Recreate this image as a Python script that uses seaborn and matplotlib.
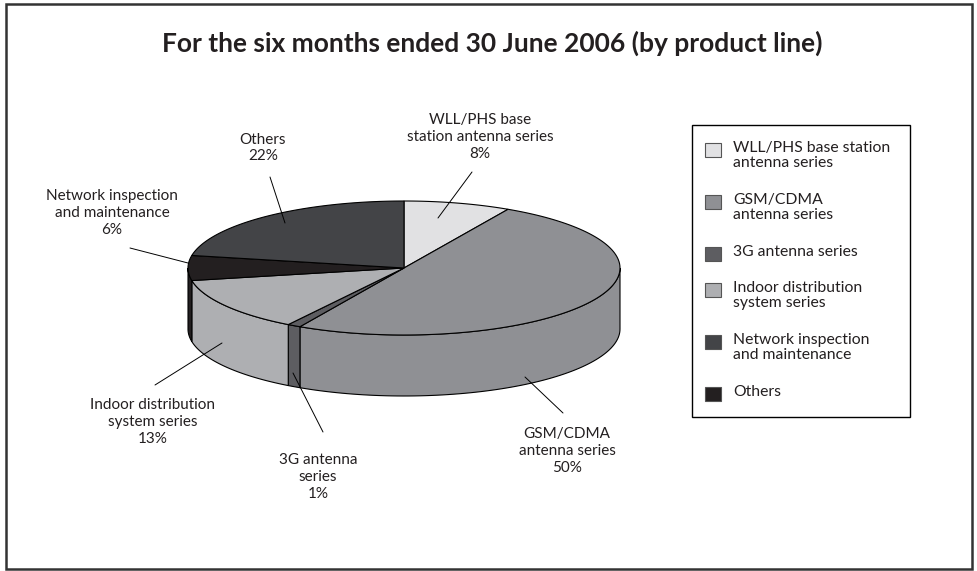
import numpy as np
import matplotlib.pyplot as plt
from matplotlib.patches import Rectangle
import seaborn as sns

# Data
categories = ['WLL/PHS base station antenna series', 'GSM/CDMA antenna series',
              '3G antenna series', 'Indoor distribution system series',
              'Network inspection and maintenance', 'Others']
shares = [8, 50, 1, 13, 6, 22]
pie_labels = ['WLL/PHS base\nstation antenna series\n8%',
              'GSM/CDMA\nantenna series\n50%',
              '3G antenna\nseries\n1%',
              'Indoor distribution\nsystem series\n13%',
              'Network inspection\nand maintenance\n6%',
              'Others\n22%']
legend_labels = ['WLL/PHS base station\nantenna series', 'GSM/CDMA\nantenna series',
                 '3G antenna series', 'Indoor distribution\nsystem series',
                 'Network inspection\nand maintenance', 'Others']
legend_colors = ['#e1e1e3', '#8f9094', '#5d5d61', '#aeafb2', '#434447', '#231f20']
# the pie itself draws the last two shades the other way round
slice_colors = ['#e1e1e3', '#8f9094', '#5d5d61', '#aeafb2', '#231f20', '#434447']
title = 'For the six months ended 30 June 2006 (by product line)'

# Layout (pixels)
cx, cy = 404, 268
rx, ry = 216, 67
depth = 61
label_pos = [(480, 137), (567, 451), (318, 477), (153, 422), (112, 213), (263, 148)]
leaders = [((472, 172), (438, 218)), ((563, 413), (525, 377)),
           ((323, 432), (293, 373)), ((155, 385), (222, 343)),
           ((130, 248), (188, 263)), ((270, 177), (285, 223))]

sns.set_style('white')
plt.rcParams['font.family'] = ['Lato', 'DejaVu Sans']
text_color = '#231f20'

fig = plt.figure(figsize=(9.77, 5.71), dpi=100)
ax = fig.add_axes([0, 0, 1, 1])
ax.set_xlim(0, 977)
ax.set_ylim(571, 0)
ax.axis('off')

frac = np.array(shares) / sum(shares)
bounds = np.concatenate([[0], np.cumsum(frac)])

# side walls (front half only)
for i, col in enumerate(slice_colors):
    a0 = 90 - 360 * bounds[i]
    a1 = 90 - 360 * bounds[i + 1]
    hi, lo = min(a0, 0), max(a1, -180)
    if lo < hi:
        th = np.radians(np.linspace(hi, lo, 80))
        xs = cx + rx * np.cos(th)
        ys = cy - ry * np.sin(th)
        ax.fill(np.concatenate([xs, xs[::-1]]),
                np.concatenate([ys, ys[::-1] + depth]),
                facecolor=col, edgecolor='black', lw=0.8)

# top faces
for i, col in enumerate(slice_colors):
    a0 = 90 - 360 * bounds[i]
    a1 = 90 - 360 * bounds[i + 1]
    th = np.radians(np.linspace(a0, a1, 120))
    xs = np.concatenate([[cx], cx + rx * np.cos(th)])
    ys = np.concatenate([[cy], cy - ry * np.sin(th)])
    ax.fill(xs, ys, facecolor=col, edgecolor='black', lw=0.8)

# labels and leader lines
for lab, (x, y), (p, q) in zip(pie_labels, label_pos, leaders):
    ax.text(x, y, lab, ha='center', va='center', multialignment='center',
            fontsize=11, color=text_color, linespacing=1.25)
    ax.plot([p[0], q[0]], [p[1], q[1]], color='black', lw=0.7)

ax.text(492, 43, title, ha='center', va='center', fontsize=19,
        fontweight='bold', color=text_color)

# legend box
ax.add_patch(Rectangle((692, 125), 218, 292, facecolor='white',
                       edgecolor='black', lw=1))
y = 150
for lab, col in zip(legend_labels, legend_colors):
    ax.add_patch(Rectangle((705, y - 7), 16, 14, facecolor=col,
                           edgecolor='#555555', lw=0.8))
    ax.text(733, y - 9, lab, ha='left', va='top', fontsize=11.3,
            color=text_color, linespacing=1.12)
    y += 36 + 16 * lab.count('\n')

# outer frame
ax.add_patch(Rectangle((6, 4), 966, 565, facecolor='none',
                       edgecolor='#333333', lw=1.8))

plt.savefig('out.png', dpi=100)
